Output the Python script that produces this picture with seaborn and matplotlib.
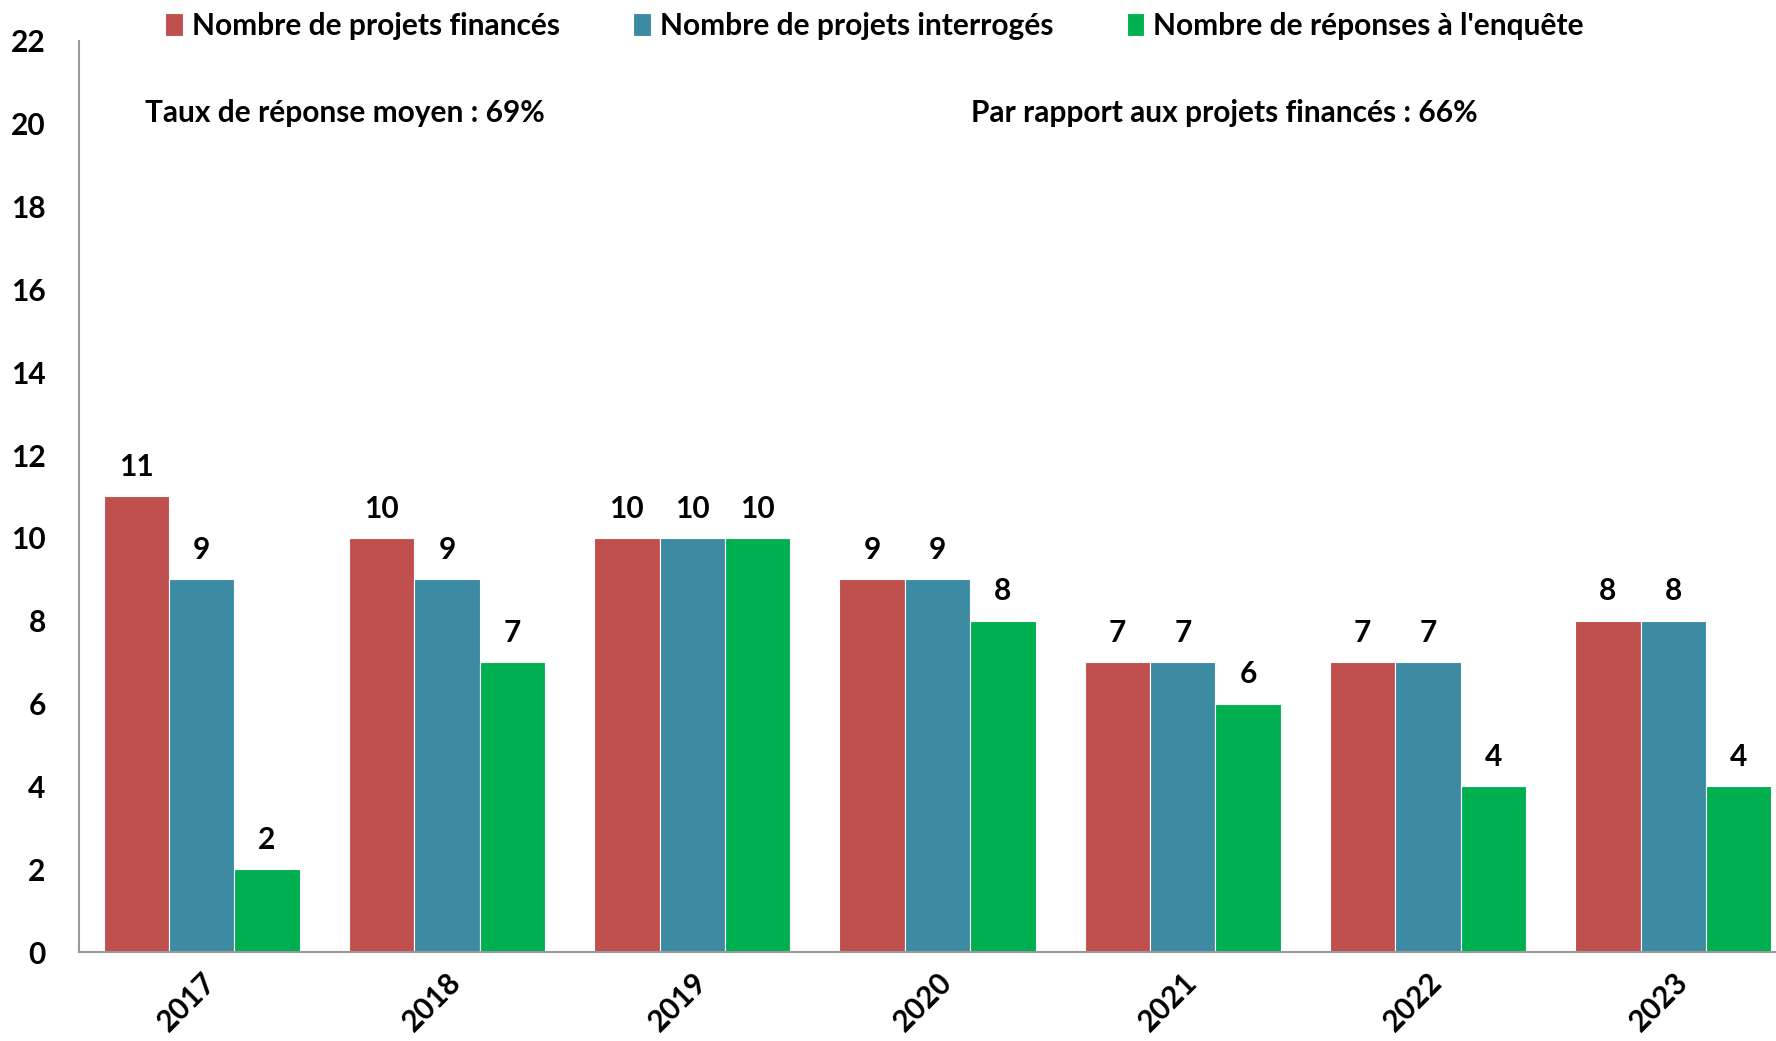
import matplotlib
matplotlib.use("Agg")
import matplotlib.pyplot as plt
import pandas as pd
import seaborn as sns

years = ["2017", "2018", "2019", "2020", "2021", "2022", "2023"]
series = ["Nombre de projets financés", "Nombre de projets interrogés",
          "Nombre de réponses à l'enquête"]
finances = [11, 10, 10, 9, 7, 7, 8]
interroges = [9, 9, 10, 9, 7, 7, 8]
reponses = [2, 7, 10, 8, 6, 4, 4]
colors = ["#C0504D", "#3C8BA3", "#00B050"]
notes = ["Taux de réponse moyen : 69%", "Par rapport aux projets financés : 66%"]

df = pd.DataFrame({
    "year": years * 3,
    "value": finances + interroges + reponses,
    "series": [s for s in series for _ in years],
})

sns.set_style("white")
plt.rcParams["font.family"] = ["Lato", "DejaVu Sans"]
plt.rcParams["font.weight"] = "bold"
plt.rcParams["text.color"] = "black"
plt.rcParams["xtick.color"] = "black"
plt.rcParams["ytick.color"] = "black"

FS = 21.5

fig = plt.figure(figsize=(17.76, 10.41), dpi=100)
# axes runs past the right edge of the figure, as in the reference
ax = fig.add_axes([79 / 1776, 1 - 952 / 1041, (1796 - 79) / 1776, (952 - 41) / 1041])

sns.barplot(data=df, x="year", y="value", hue="series", palette=colors,
            width=0.8, saturation=1, edgecolor="white", linewidth=0.8, ax=ax)

for cont in ax.containers:
    ax.bar_label(cont, padding=11, fontsize=FS, fontweight="bold")

ax.set_xlim(-0.5, 6.5)
ax.set_ylim(0, 22)
ax.set_yticks(range(0, 23, 2))
ax.set_xlabel("")
ax.set_ylabel("")
ax.tick_params(axis="y", labelsize=FS, length=0, pad=24)
ax.tick_params(axis="x", labelsize=FS, length=0, pad=11)
plt.setp(ax.get_xticklabels(), rotation=45, ha="right", rotation_mode="anchor")
for lbl in ax.get_yticklabels() + ax.get_xticklabels():
    lbl.set_fontweight("bold")

for side in ["top", "right"]:
    ax.spines[side].set_visible(False)
for side in ["left", "bottom"]:
    ax.spines[side].set_color("#999999")
    ax.spines[side].set_linewidth(1.5)

fig.text(145 / 1776, 1 - 113 / 1041, notes[0], fontsize=FS, fontweight="bold",
         va="center", ha="left")
fig.text(971 / 1776, 1 - 113 / 1041, notes[1], fontsize=FS, fontweight="bold",
         va="center", ha="left")

ax.legend(loc="upper left", bbox_to_anchor=(153 / 1776, 1.0), bbox_transform=fig.transFigure,
          ncol=3, frameon=False, fontsize=FS, handlelength=0.6, handleheight=0.8,
          handletextpad=0.3, columnspacing=2.45, borderaxespad=0)
for t in ax.get_legend().get_texts():
    t.set_fontweight("bold")

fig.savefig("out.png", dpi=100)
